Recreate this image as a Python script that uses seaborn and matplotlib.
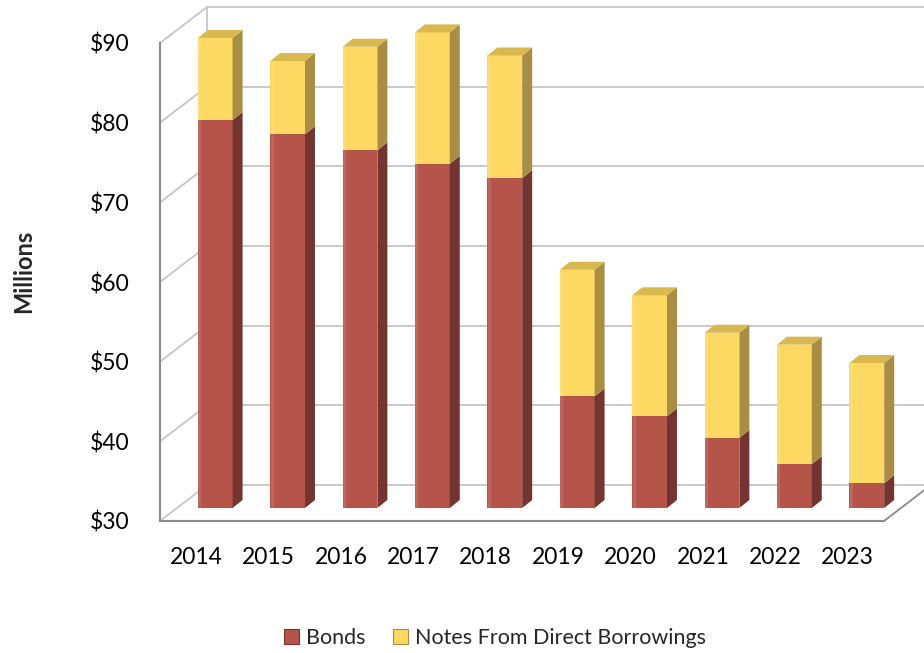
import matplotlib
matplotlib.use("Agg")
import matplotlib.pyplot as plt
from matplotlib.patches import Polygon, Patch
import seaborn as sns
import pandas as pd

# ---- data (millions of dollars) ----
years = ["2014", "2015", "2016", "2017", "2018", "2019", "2020", "2021", "2022", "2023"]
bonds = [78.7, 76.9, 74.9, 73.2, 71.4, 44.0, 41.5, 38.8, 35.5, 33.1]
notes = [10.3, 9.2, 13.0, 16.5, 15.4, 15.9, 15.2, 13.2, 15.0, 15.1]
y_ticks = [30, 40, 50, 60, 70, 80, 90]
y_labels = ["$30", "$40", "$50", "$60", "$70", "$80", "$90"]
series_names = ["Bonds", "Notes From Direct Borrowings"]

totals = [b + n for b, n in zip(bonds, notes)]
df = pd.DataFrame({"year": years, "bonds": bonds, "total": totals})

# ---- style ----
sns.set_theme(style="white")
plt.rcParams["font.family"] = ["Lato", "DejaVu Sans"]

RED_FRONT, RED_SIDE = "#b5544a", "#743530"
YEL_FRONT, YEL_SIDE, YEL_TOP = "#fdd862", "#a98d43", "#d8b84f"
GRID = "#c6c6c6"
AXIS = "#8a8a8a"

W, H, DPI = 924, 653, 100
fig = plt.figure(figsize=(W / DPI, H / DPI), dpi=DPI)

# front plane of the chart box (pixel geometry)
px_left, px_right, px_bottom, px_top = 160, 884, 521, 43
ax = fig.add_axes([px_left / W, 1 - px_bottom / H,
                   (px_right - px_left) / W, (px_bottom - px_top) / H])
ax.set_xlim(-0.5, len(years) - 0.5)
ax.set_ylim(y_ticks[0], y_ticks[-1])

cat_px = (px_right - px_left) / len(years)
val_px = (px_bottom - px_top) / (y_ticks[-1] - y_ticks[0])

# depth of the chart box, in data units
DX = 47 / cat_px
DY = 36 / val_px
x0, x1 = -0.5, len(years) - 0.5

# back wall, side wall and floor lines
for v in y_ticks:
    ax.plot([x0 + DX, x1 + DX], [v + DY, v + DY], color=GRID, lw=1.3,
            clip_on=False, zorder=1)
    ax.plot([x0, x0 + DX], [v, v + DY], color=GRID, lw=1.3, clip_on=False, zorder=1)
ax.plot([x0 + DX, x0 + DX], [y_ticks[0] + DY, y_ticks[-1] + DY], color=GRID,
        lw=1.3, clip_on=False, zorder=1)
ax.plot([x1, x1 + DX], [y_ticks[0], y_ticks[0] + DY], color=AXIS, lw=1.3,
        clip_on=False, zorder=1)

# axes spines / ticks
for s in ["top", "right"]:
    ax.spines[s].set_visible(False)
for s in ["left", "bottom"]:
    ax.spines[s].set_color(AXIS)
    ax.spines[s].set_linewidth(1.5)
ax.set_yticks(y_ticks)
ax.set_yticklabels(y_labels, fontsize=16.5, color="#000000")
ax.tick_params(axis="y", direction="out", length=5, width=1.3, color=AXIS, pad=17)
ax.set_xticks(range(len(years)))
ax.set_xticklabels(years, fontsize=16.5, color="#000000")
ax.tick_params(axis="x", which="major", length=0, pad=19)
ax.set_xticks([i - 0.5 for i in range(len(years) + 1)], minor=True)
ax.tick_params(axis="x", which="minor", direction="out", length=5, width=1.3, color=AXIS)
ax.set_ylabel("Millions", fontsize=17, fontweight="bold")
ax.yaxis.set_label_coords(-125 / (px_right - px_left), (px_bottom - 271) / (px_bottom - px_top))
ax.set_xlabel("")
ax.patch.set_alpha(0)

# bars sit part way into the box depth
bar_dx_px, bar_dy_px = 19, 13
bax = fig.add_axes([(px_left + bar_dx_px) / W, 1 - (px_bottom - bar_dy_px) / H,
                    (px_right - px_left) / W, (px_bottom - px_top) / H])
bax.patch.set_alpha(0)

BW = 0.48
sns.barplot(data=df, x="year", y="total", color=YEL_FRONT, saturation=1,
            width=BW, linewidth=0, ax=bax)
sns.barplot(data=df, x="year", y="bonds", color=RED_FRONT, saturation=1,
            width=BW, linewidth=0, ax=bax)
bax.set_xlim(-0.5, len(years) - 0.5)
bax.set_ylim(y_ticks[0], y_ticks[-1])
bax.axis("off")

# side and top faces of each column
ddx = 10 / cat_px
ddy = 8 / val_px
base = y_ticks[0]
for i, (b, t) in enumerate(zip(bonds, totals)):
    xr = i + BW / 2
    xl = i - BW / 2
    for lo, hi, col in [(base, b, RED_SIDE), (b, t, YEL_SIDE)]:
        bax.add_patch(Polygon([(xr, lo), (xr + ddx, lo + ddy), (xr + ddx, hi + ddy), (xr, hi)],
                              closed=True, facecolor=col, edgecolor="none",
                              clip_on=False, zorder=3))
    bax.add_patch(Polygon([(xl, t), (xr, t), (xr + ddx, t + ddy), (xl + ddx, t + ddy)],
                          closed=True, facecolor=YEL_TOP, edgecolor="none",
                          clip_on=False, zorder=3))
    # faint highlight along the front edges
    bax.plot([xl + 0.02, xl + 0.02], [base, t], color="white", alpha=0.12, lw=2, zorder=4)

# legend
handles = [Patch(facecolor=RED_FRONT, edgecolor=RED_SIDE, linewidth=0.8),
           Patch(facecolor=YEL_FRONT, edgecolor=YEL_SIDE, linewidth=0.8)]
fig.legend(handles, series_names, loc="center", bbox_to_anchor=(495 / W, 1 - 638 / H),
           ncol=2, frameon=False, fontsize=15.5, handlelength=0.7, handleheight=0.7,
           handletextpad=0.3, columnspacing=1.3)

fig.savefig("out.png", dpi=DPI)
